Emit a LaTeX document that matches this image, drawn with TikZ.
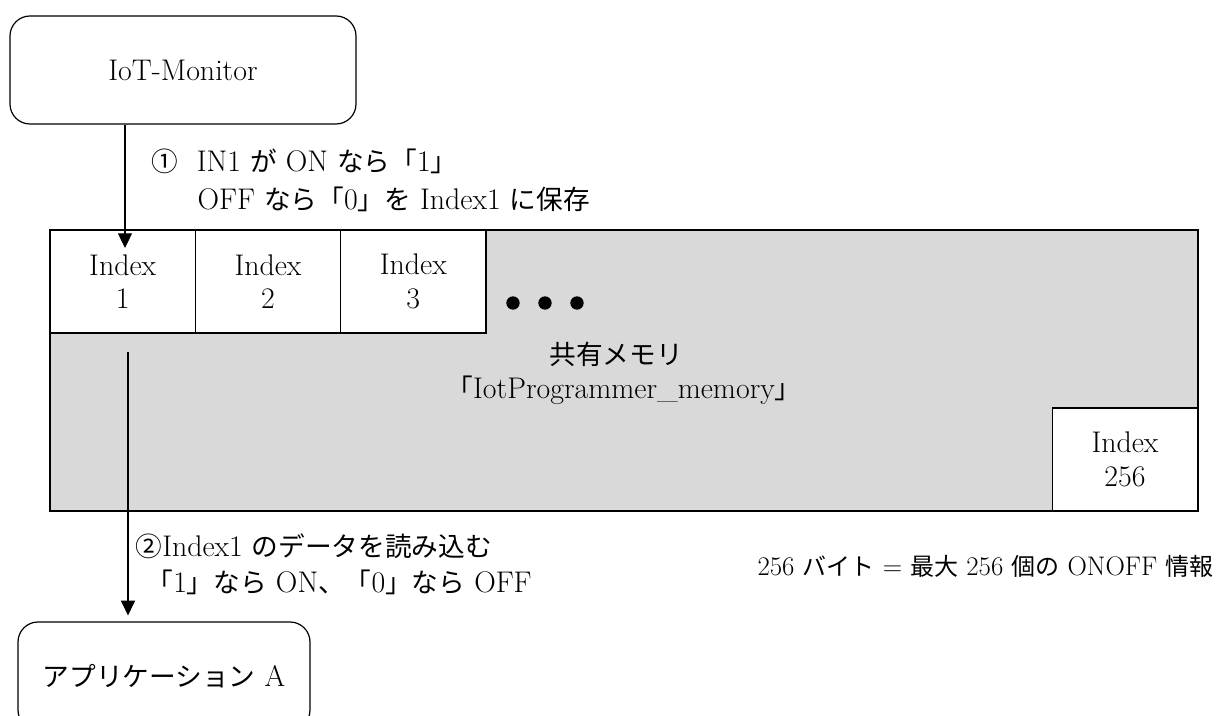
\documentclass[tikz,border=0pt]{standalone}
\usepackage{fontspec}
\setmainfont{Latin Modern Roman}[Scale=1.12]
\newfontfamily\jp{Noto Sans CJK JP}
\newcommand\J[1]{{\jp #1}}
\usetikzlibrary{arrows.meta}
\definecolor{memgray}{HTML}{D9D9D9}
\begin{document}
\begin{tikzpicture}[x=0.75pt,y=-0.75pt,
  font=\fontsize{20}{26}\selectfont,
  line width=0.9pt,
  arr/.style={-{Triangle[length=11pt,width=10.5pt]}},
  rbox/.style={draw,rounded corners=15pt,minimum width=259.5pt,minimum height=81pt,inner sep=0pt},
  cell/.style={draw,fill=white,minimum width=109pt,minimum height=77.25pt,align=center,inner sep=0pt,font=\fontsize{20}{25}\selectfont},
  dot/.style={circle,fill=black,minimum size=10pt,inner sep=0pt},
  lbl/.style={anchor=west,inner sep=0pt}]
\useasboundingbox (0,0) rectangle (1218,716);
% top box
\node[rbox] (iot) at (183,70) {IoT-Monitor};
% memory
\node[draw,fill=memgray,minimum width=861pt,minimum height=210.75pt,inner sep=0pt] (mem) at (624,370.5) {};
\node[cell] (i1) at (122.7,281.5) {Index\\1};
\node[cell] (i2) at (268,281.5) {Index\\2};
\node[cell] (i3) at (413.3,281.5) {Index\\3};
\node[cell] (i256) at (1125,459.5) {Index\\256};
\node[dot] (d1) at (513,303) {};
\node[dot] (d2) at (545,303) {};
\node[dot] (d3) at (577,303) {};
\node[inner sep=0pt] (mname) at (616,354) {\J{共有メモリ}};
\node[inner sep=0pt] (mid) at (624,390) {\J{「}IotProgrammer\_memory\J{」}};
% bottom box
\node[rbox,minimum width=219pt] (app) at (164,676) {\J{アプリケーション} A};
% arrows
\coordinate (a1end) at (125,248);
\draw[arr] (iot.south -| a1end) -- (a1end);
\coordinate (a2start) at (128,352);
\draw[arr,shorten >=4.5pt] (a2start) -- (a2start |- app.north);
% labels
\node[lbl] (l1a) at (151,161) {\J{①}\hspace{14pt}IN1 \J{が} ON \J{なら「}1\J{」}};
\node[lbl] (l1b) at (197,199) {OFF \J{なら「}0\J{」を} Index1 \J{に保存}};
\node[lbl] (l2a) at (135,546) {\J{②}Index1 \J{のデータを読み込む}};
\node[lbl] (l2b) at (146,582) {\J{「}1\J{」なら} ON\J{、「}0\J{」なら} OFF};
\node[anchor=east,inner sep=0pt,font=\fontsize{18}{22}\selectfont] (note) at (1214,566) {256 \J{バイト} = \J{最大} 256 \J{個の} ONOFF \J{情報}};
\end{tikzpicture}
\end{document}
